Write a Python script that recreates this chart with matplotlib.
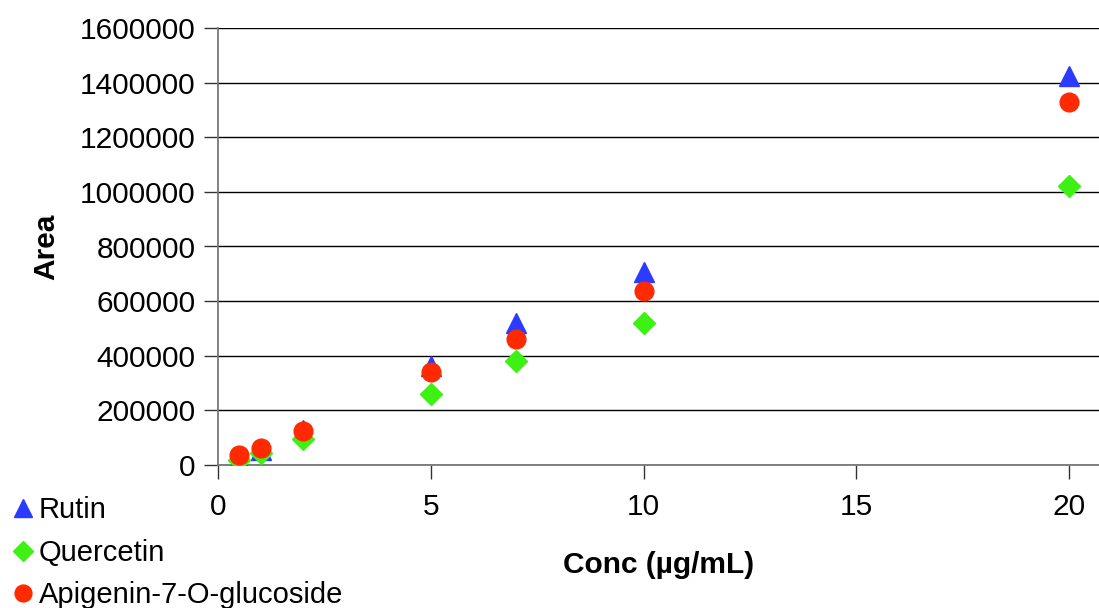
import matplotlib.pyplot as plt

plt.rcParams["font.family"] = ["Liberation Sans", "DejaVu Sans"]

conc = [0.5, 1, 2, 5, 7, 10, 20]
rutin = [18000, 56000, 127000, 362000, 520000, 706000, 1424000]
quercetin = [20000, 45000, 95000, 260000, 381000, 520000, 1021000]
apigenin = [37000, 62000, 123000, 340000, 461000, 637000, 1329000]

yticks = [0, 200000, 400000, 600000, 800000, 1000000, 1200000, 1400000, 1600000]
xticks = [0, 5, 10, 15, 20]

FS = 21.5

fig = plt.figure(figsize=(10.99, 6.08), dpi=100)
ax = fig.add_axes([218 / 1099, 1 - 465 / 608, 1 - 218 / 1099, (465 - 28) / 608])

ax.plot(conc, rutin, ls="none", marker="^", ms=15, color="#2b3bff", mec="#2b3bff",
        label="Rutin", zorder=3)
ax.plot(conc, quercetin, ls="none", marker="D", ms=11, color="#3ff014", mec="#3ff014",
        label="Quercetin", zorder=3)
ax.plot(conc, apigenin, ls="none", marker="o", ms=13.5, color="#ff2a00", mec="#ff2a00",
        label="Apigenin-7-O-glucoside", zorder=4)

ax.set_xlim(0, 20.7)
ax.set_ylim(0, 1600000)
ax.set_xticks(xticks)
ax.set_yticks(yticks)
ax.set_yticklabels([str(v) for v in yticks])
ax.tick_params(labelsize=FS, length=10, width=1, color="#333333", direction="out", pad=6)
ax.tick_params(axis="x", pad=10)
ax.grid(axis="y", color="black", lw=1.0)
ax.set_axisbelow(True)
for s in ["top", "right"]:
    ax.spines[s].set_visible(False)
for s in ["left", "bottom"]:
    ax.spines[s].set_color("#777777")
    ax.spines[s].set_linewidth(1.3)

ax.set_xlabel("Conc (µg/mL)", fontsize=FS, fontweight="bold", labelpad=22)
ax.set_ylabel("Area", fontsize=FS, fontweight="bold", labelpad=14)

fig.legend(loc="lower left", bbox_to_anchor=(-0.006, -0.036), frameon=False, fontsize=21,
           handlelength=0.6, handletextpad=0.25, labelspacing=0.5, borderpad=0.2,
           markerscale=0.9)

fig.savefig("out.png", dpi=100)
